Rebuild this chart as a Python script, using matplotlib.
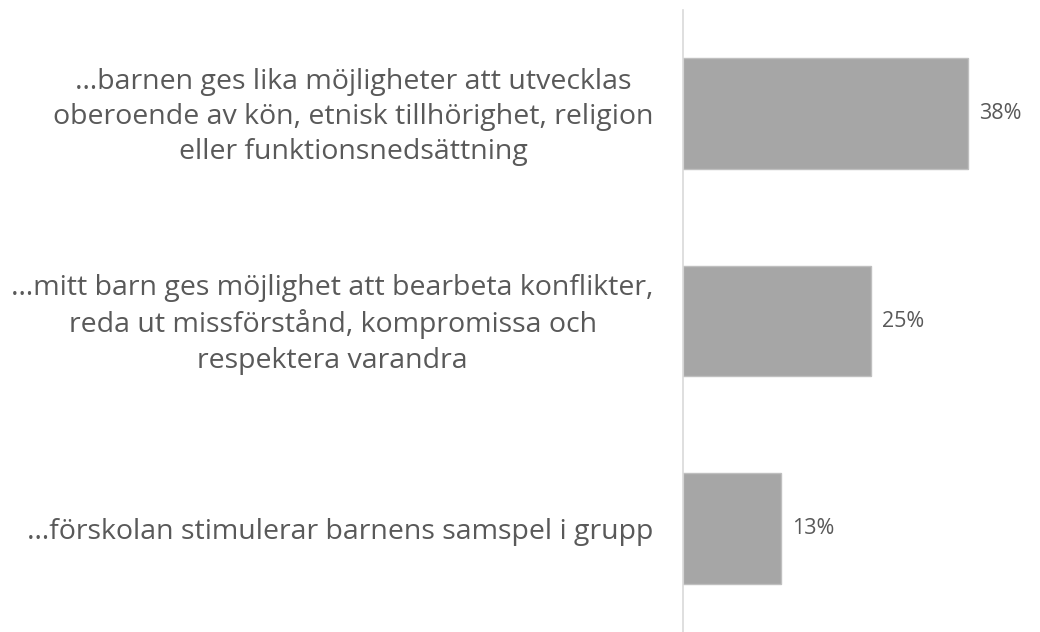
import matplotlib.pyplot as plt
from matplotlib.transforms import ScaledTranslation

plt.rcParams["font.family"] = ["Open Sans", "DejaVu Sans"]

labels = [
    "…barnen ges lika möjligheter att utvecklas\noberoende av kön, etnisk tillhörighet, religion\neller funktionsnedsättning",
    "…mitt barn ges möjlighet att bearbeta konflikter,\nreda ut missförstånd, kompromissa och\nrespektera varandra",
    "…förskolan stimulerar barnens samspel i grupp",
]
values = [38, 25, 13]

text_col = "#595959"

fig = plt.figure(figsize=(10.4, 6.32), dpi=100)
ax = fig.add_axes([683 / 1040, 0.0, 357 / 1040, 622 / 632])

pos = range(len(values))
ax.barh(pos, values, height=0.535, color="#A6A6A6", edgecolor="#BFBFBF", linewidth=1)
ax.set_ylim(2.5, -0.5)
ax.set_xlim(0, 47.6)

for p, v in zip(pos, values):
    ax.text(v + 1.5, p, f"{v}%", va="center", ha="left", fontsize=15.5, color=text_col)

ax.set_yticks(list(pos))
ax.set_yticklabels(labels, fontsize=20.5, color=text_col, ha="right",
                   multialignment="center", linespacing=1.34)
ax.tick_params(axis="y", length=0, pad=21)
ax.set_xticks([])

# multi-line labels sit a few px high in the original
up = ScaledTranslation(0, 4 / 100, fig.dpi_scale_trans)
for t in ax.get_yticklabels():
    if "\n" in t.get_text():
        t.set_transform(t.get_transform() + up)

for s in ["top", "right", "bottom"]:
    ax.spines[s].set_visible(False)
ax.spines["left"].set_color("#D9D9D9")
ax.spines["left"].set_linewidth(1.2)

fig.savefig("out.png", dpi=100)
